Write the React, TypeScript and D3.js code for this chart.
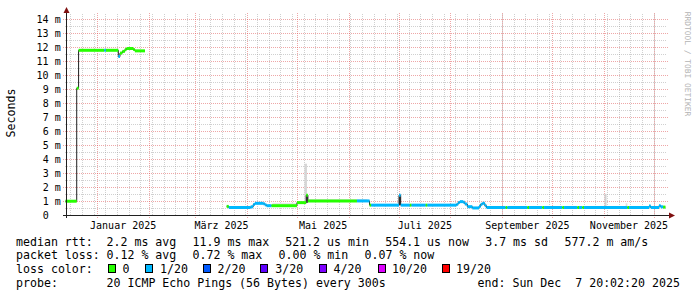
import React from "react";
import * as d3 from "d3";

const W = 697;
const H = 297;
const MONO = "'DejaVu Sans Mono', 'Liberation Mono', monospace";

const startTime = new Date("2024-12-12T20:02:20");
const endTime = new Date("2025-12-07T20:02:20");

// median rtt samples (step values, ms) and loss bracket index
const sampleDates = [
  "2024-12-12T20:02", "2024-12-19T15:00", "2024-12-20T18:00", "2025-01-05T04:00",
  "2025-01-06T04:00", "2025-01-13T14:00", "2025-01-14T14:00", "2025-01-16T00:00",
  "2025-01-17T12:00", "2025-01-18T12:00", "2025-01-22T12:00", "2025-01-23T12:00",
  "2025-01-29T14:00", "2025-03-19T14:00", "2025-03-20T20:00", "2025-04-03T00:00",
  "2025-04-04T12:00", "2025-04-05T12:00", "2025-04-10T12:00", "2025-04-11T12:00",
  "2025-04-12T12:00", "2025-04-15T12:00", "2025-04-30T18:00", "2025-05-06T08:00",
  "2025-05-07T08:00", "2025-06-05T18:00", "2025-06-13T08:00", "2025-06-14T08:00",
  "2025-07-01T00:00", "2025-07-02T00:00", "2025-07-07T12:00", "2025-07-08T12:00",
  "2025-07-17T00:00", "2025-07-18T00:00", "2025-08-04T12:00", "2025-08-05T12:00",
  "2025-08-06T12:00", "2025-08-08T12:00", "2025-08-09T12:00", "2025-08-11T00:00",
  "2025-08-14T00:00", "2025-08-18T00:00", "2025-08-19T00:00", "2025-08-20T00:00",
  "2025-08-21T12:00", "2025-08-22T12:00", "2025-09-03T00:00", "2025-09-04T00:00",
  "2025-09-16T00:00", "2025-09-17T00:00", "2025-09-25T00:00", "2025-09-26T00:00",
  "2025-10-07T00:00", "2025-10-08T00:00", "2025-10-16T00:00", "2025-10-17T00:00",
  "2025-10-19T00:00", "2025-10-20T00:00", "2025-11-15T00:00", "2025-11-16T00:00",
  "2025-11-28T00:00", "2025-11-29T00:00", "2025-12-04T00:00", "2025-12-05T00:00",
  "2025-12-06T12:00", "2025-12-07T20:02",
];
const medianMs: (number | null)[] = [
  1.02, 9.09, 11.8, 11.8,
  11.8, 11.35, 11.6, 11.72,
  11.85, 11.93, 11.85, 11.76,
  null, 0.65, 0.57, 0.62,
  0.78, 0.87, 0.84, 0.76,
  0.7, 0.7, 0.92, 1.45,
  1.04, 1.04, 0.74, 0.74,
  1.45, 0.74, 0.74, 0.74,
  0.74, 0.74, 0.8, 0.93,
  0.99, 0.95, 0.82, 0.63,
  0.54, 0.65, 0.8, 0.87,
  0.7, 0.57, 0.57, 0.57,
  0.57, 0.57, 0.57, 0.57,
  0.57, 0.57, 0.57, 0.57,
  0.57, 0.57, 0.57, 0.57,
  0.68, 0.57, 0.7, 0.62,
  0.6, null,
];
const lossLevel = [
  0, 0, 0, 1,
  0, 1, 0, 0,
  0, 0, 0, 0,
  0, 0, 1, 1,
  1, 1, 1, 1,
  1, 0, 0, 0,
  0, 1, 0, 1,
  1, 1, 0, 1,
  0, 1, 1, 1,
  1, 1, 1, 1,
  1, 1, 1, 1,
  1, 1, 0, 1,
  0, 1, 0, 1,
  0, 1, 0, 1,
  0, 1, 0, 1,
  1, 1, 1, 1,
  0, 0,
];

// smoke (ping spread) bands
const smokeFrom = ["2025-04-16T00:00", "2025-05-08T00:00", "2025-05-05T06:00", "2025-05-06T08:00", "2025-07-01T00:00", "2025-11-01T06:00", "2025-11-14T00:00"];
const smokeTo = ["2025-04-30T12:00", "2025-06-12T00:00", "2025-05-06T18:00", "2025-05-07T08:00", "2025-07-02T00:00", "2025-11-02T12:00", "2025-11-15T00:00"];
const smokeLowMs = [0.7, 1.04, 1.0, 0.9, 0.74, 0.6, 0.57];
const smokeHighMs = [0.9, 1.17, 3.7, 1.45, 1.45, 1.55, 0.87];
const smokeShade = ["#e6e6e6", "#e2e2e2", "#d6d6d6", "#3c3c3c", "#3c3c3c", "#d0d0d0", "#dcdcdc"];

const yTickValues = d3.range(0, 15);
const monthLabelStarts = ["2025-01-01", "2025-03-01", "2025-05-01", "2025-07-01", "2025-09-01", "2025-11-01"];
const monthLabels = ["Januar 2025", "März 2025", "Mai 2025", "Juli 2025", "September 2025", "November 2025"];

const rttStats = ["2.2 ms avg", "11.9 ms max", "521.2 us min", "554.1 us now", "3.7 ms sd", "577.2 m am/s"];
const lossStats = ["0.12 % avg", "0.72 % max", "0.00 % min", "0.07 % now"];
const lossLabels = ["0", "1/20", "2/20", "3/20", "4/20", "10/20", "19/20"];
const lossColors = ["#26ff00", "#00b8ff", "#0059ff", "#5e00ff", "#7e00ff", "#dd00ff", "#ff0000"];
const probeText = "20 ICMP Echo Pings (56 Bytes) every 300s";
const endText = "end: Sun Dec  7 20:02:20 2025";

// layout
const rttX = [106.5, 192.5, 285.2, 385.2, 485.2, 564.5];
const lossX = [106.5, 192.5, 278.5, 364.5];
const boxX = [108.5, 145.5, 203, 260.5, 319, 378, 442];
const boxLabelX = [122.5, 160, 217.5, 275.2, 333.5, 392, 456];
const legendY = [245.5, 259.2, 272.9, 286.6];

export default function App() {
  const x = d3.scaleTime().domain([startTime, endTime]).range([65.4, 665.4]);
  const y = d3.scaleLinear().domain([0, 200 / 14]).range([215.5, 15.5]);
  const px = (d: Date) => Math.floor(x(d)) + 0.5;

  const dates = sampleDates.map((s) => new Date(s));

  // black thin median path
  let blackPath = "";
  let penDown = false;
  for (let i = 0; i < dates.length - 1; i++) {
    const v = medianMs[i];
    if (v == null) { penDown = false; continue; }
    const x0 = x(dates[i]);
    const x1 = x(dates[i + 1]);
    const yy = y(v);
    if (!penDown) { blackPath += `M${x0},${yy}`; penDown = true; }
    else blackPath += `V${yy}`;
    blackPath += `H${x1}`;
  }

  const coloured = [] as React.ReactNode[];
  for (let i = 0; i < dates.length - 1; i++) {
    const v = medianMs[i];
    if (v == null) continue;
    coloured.push(
      <line key={"c" + i} x1={x(dates[i])} x2={x(dates[i + 1])} y1={y(v)} y2={y(v)}
        stroke={lossColors[lossLevel[i]]} strokeWidth={3} />
    );
  }

  const majorY = yTickValues.filter((v) => v > 0);
  const minorY = yTickValues.map((v) => v + 0.5).filter((v) => y(v) > 15);
  const months = d3.timeMonth.range(startTime, endTime);
  const weeks = d3.timeMonday.range(startTime, endTime);

  const gridGray = "rgba(143,143,143,0.42)";
  const gridRed = "rgba(222,80,80,0.5)";

  return (
    <svg width={W} height={H} viewBox={`0 0 ${W} ${H}`} style={{ display: "block", background: "#fff" }}>
      <style>{`body{margin:0}`}</style>
      <rect x={0} y={0} width={W} height={H} fill="#ffffff" />

      {/* minor grid */}
      <g stroke={gridGray} strokeWidth={1} strokeDasharray="1,1" shapeRendering="crispEdges">
        {minorY.map((v) => (
          <line key={"mh" + v} x1={65} x2={667} y1={Math.floor(y(v)) + 0.5} y2={Math.floor(y(v)) + 0.5} />
        ))}
        {weeks.map((d) => (
          <line key={"mv" + +d} x1={px(d)} x2={px(d)} y1={14} y2={216} />
        ))}
      </g>
      {/* major grid */}
      <g stroke={gridRed} strokeWidth={1} strokeDasharray="1,1" shapeRendering="crispEdges">
        {majorY.map((v) => (
          <line key={"Mh" + v} x1={63} x2={669} y1={Math.floor(y(v)) + 0.5} y2={Math.floor(y(v)) + 0.5} />
        ))}
        {months.map((d) => (
          <line key={"Mv" + +d} x1={px(d)} x2={px(d)} y1={13} y2={218} />
        ))}
      </g>

      {/* smoke */}
      {smokeFrom.map((s, i) => {
        const a = x(new Date(s));
        const b = x(new Date(smokeTo[i]));
        return (
          <rect key={"s" + i} x={a} width={Math.max(1, b - a)} y={y(smokeHighMs[i])}
            height={y(smokeLowMs[i]) - y(smokeHighMs[i])} fill={smokeShade[i]} />
        );
      })}

      {/* median */}
      <path d={blackPath} fill="none" stroke="#202020" strokeWidth={1} />
      {coloured}

      {/* axes */}
      <g shapeRendering="crispEdges" stroke="#202020" strokeWidth={1}>
        <line x1={63} x2={669} y1={215.5} y2={215.5} />
        <line x1={66.5} x2={66.5} y1={218} y2={12} />
      </g>
      <polygon points="669,212.5 675,215.5 669,218.5" fill="#7f1010" />
      <polygon points="63.5,13 66.5,7 69.5,13" fill="#7f1010" />

      {/* y tick labels */}
      <g fontFamily={MONO} fontSize={10} fill="#000" textAnchor="end">
        {yTickValues.map((v) => (
          <text key={"yt" + v} x={v === 0 ? 48.7 : 60.7} y={Math.floor(y(v)) + 3.7}>
            {v === 0 ? "0" : `${v} m`}
          </text>
        ))}
      </g>
      {/* x labels centred in their month */}
      <g fontFamily={MONO} fontSize={10} fill="#000" textAnchor="middle">
        {monthLabelStarts.map((s, i) => {
          const a = new Date(s + "T00:00:00");
          const b = d3.timeMonth.offset(a, 1);
          return (
            <text key={"xl" + i} x={(x(a) + x(b)) / 2} y={228.5}>{monthLabels[i]}</text>
          );
        })}
      </g>

      {/* axis title */}
      <text transform="translate(14.5,113) rotate(-90)" fontFamily={MONO} fontSize={11.6} textAnchor="middle" fill="#000">Seconds</text>
      <text transform="translate(685,64) rotate(90)" fontFamily={MONO} fontSize={7.9} textAnchor="middle" fill="#b4b4b4">RRDTOOL / TOBI OETIKER</text>

      {/* legend */}
      <g fontFamily={MONO} fontSize={11.6} fill="#000" style={{ whiteSpace: "pre" }}>
        <text x={16} y={legendY[0]}>median rtt:</text>
        {rttStats.map((t, i) => (
          <text key={"r" + i} x={rttX[i]} y={legendY[0]}>{t}</text>
        ))}
        <text x={16} y={legendY[1]}>packet loss:</text>
        {lossStats.map((t, i) => (
          <text key={"l" + i} x={lossX[i]} y={legendY[1]}>{t}</text>
        ))}
        <text x={16} y={legendY[2]}>loss color:</text>
        {lossLabels.map((t, i) => (
          <g key={"b" + i}>
            <rect x={boxX[i]} y={264.5} width={7} height={8} fill={lossColors[i]} stroke="#000" strokeWidth={1} shapeRendering="crispEdges" />
            <text x={boxLabelX[i]} y={legendY[2]}>{t}</text>
          </g>
        ))}
        <text x={16} y={legendY[3]}>probe:</text>
        <text x={106.5} y={legendY[3]}>{probeText}</text>
        <text x={477.5} y={legendY[3]} xmlSpace="preserve">{endText}</text>
      </g>
    </svg>
  );
}
